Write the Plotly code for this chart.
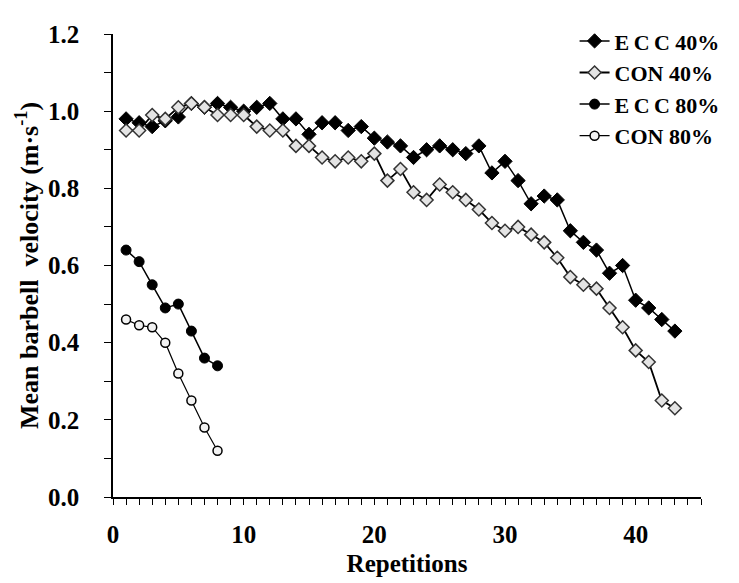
import plotly.graph_objects as go

reps_40 = list(range(1, 44))
ecc_40 = [0.98, 0.97, 0.96, 0.975, 0.985, 1.02, 1.01, 1.02, 1.01, 1.00,
          1.01, 1.02, 0.98, 0.98, 0.94, 0.97, 0.97, 0.95, 0.96, 0.93,
          0.92, 0.91, 0.88, 0.90, 0.91, 0.90, 0.89, 0.91, 0.84, 0.87,
          0.82, 0.76, 0.78, 0.77, 0.69, 0.66, 0.64, 0.58, 0.60, 0.51,
          0.49, 0.46, 0.43]
con_40 = [0.95, 0.95, 0.99, 0.98, 1.01, 1.02, 1.01, 0.99, 0.99, 0.99,
          0.96, 0.95, 0.95, 0.91, 0.91, 0.88, 0.87, 0.88, 0.87, 0.89,
          0.82, 0.85, 0.79, 0.77, 0.81, 0.79, 0.77, 0.745, 0.71, 0.69,
          0.70, 0.68, 0.66, 0.62, 0.57, 0.55, 0.54, 0.49, 0.44, 0.38,
          0.35, 0.25, 0.23]
reps_80 = list(range(1, 9))
ecc_80 = [0.64, 0.61, 0.55, 0.49, 0.50, 0.43, 0.36, 0.34]
con_80 = [0.46, 0.445, 0.44, 0.40, 0.32, 0.25, 0.18, 0.12]

FONT = "Liberation Serif, Times New Roman, serif"

fig = go.Figure()
fig.add_trace(go.Scatter(
    x=reps_40, y=ecc_40, name="E\u2009C\u2009C 40%", mode="lines+markers",
    line=dict(color="black", width=1.5),
    marker=dict(symbol="diamond", size=11, color="black",
                line=dict(color="black", width=1))))
fig.add_trace(go.Scatter(
    x=reps_40, y=con_40, name="CON 40%", mode="lines+markers",
    line=dict(color="black", width=1.8),
    marker=dict(symbol="diamond", size=10, color="#e4e4e4",
                line=dict(color="#333333", width=1.5))))
fig.add_trace(go.Scatter(
    x=reps_80, y=ecc_80, name="E\u2009C\u2009C 80%", mode="lines+markers",
    line=dict(color="black", width=1.5),
    marker=dict(symbol="circle", size=10, color="black",
                line=dict(color="black", width=1))))
fig.add_trace(go.Scatter(
    x=reps_80, y=con_80, name="CON 80%", mode="lines+markers",
    line=dict(color="black", width=1.2),
    marker=dict(symbol="circle", size=9, color="#f2f2f2",
                line=dict(color="black", width=1.5))))

fig.update_layout(
    width=739, height=583,
    margin=dict(l=105, r=46, t=19, b=94),
    paper_bgcolor="white", plot_bgcolor="white",
    font=dict(family=FONT, color="black", size=20, weight="bold"),
    showlegend=True,
    legend=dict(x=0.785, y=1.03, xanchor="left", yanchor="top",
                font=dict(family=FONT, size=22, color="black", weight="bold"),
                bgcolor="rgba(0,0,0,0)"),
)
fig.update_xaxes(
    range=[0, 45], dtick=10, tick0=0, showgrid=False, zeroline=False,
    showline=True, linecolor="black", linewidth=1.5,
    ticks="outside", ticklen=6, tickcolor="black", tickwidth=1.2,
    minor=dict(dtick=1, ticks="outside", ticklen=6, tickcolor="black", tickwidth=1),
    tickfont=dict(family=FONT, size=25, color="black", weight="bold"),
    ticklabelstandoff=8,
    title=dict(text="Repetitions",
               font=dict(family=FONT, size=25, weight="bold"), standoff=8),
)
fig.update_yaxes(
    range=[0, 1.2], dtick=0.2, tick0=0, tickformat=".1f", showgrid=False,
    zeroline=False, showline=True, linecolor="black", linewidth=1.5,
    ticks="outside", ticklen=7, tickcolor="black", tickwidth=1.2,
    minor=dict(dtick=0.1, ticks="outside", ticklen=7, tickcolor="black", tickwidth=1),
    tickfont=dict(family=FONT, size=25, color="black", weight="bold"),
    ticklabelstandoff=20,
    title=dict(text="Mean barbell  velocity (m·s<sup>-1</sup>)",
               font=dict(family=FONT, size=26, weight="bold"), standoff=2),
)

fig.write_html("out.html")
